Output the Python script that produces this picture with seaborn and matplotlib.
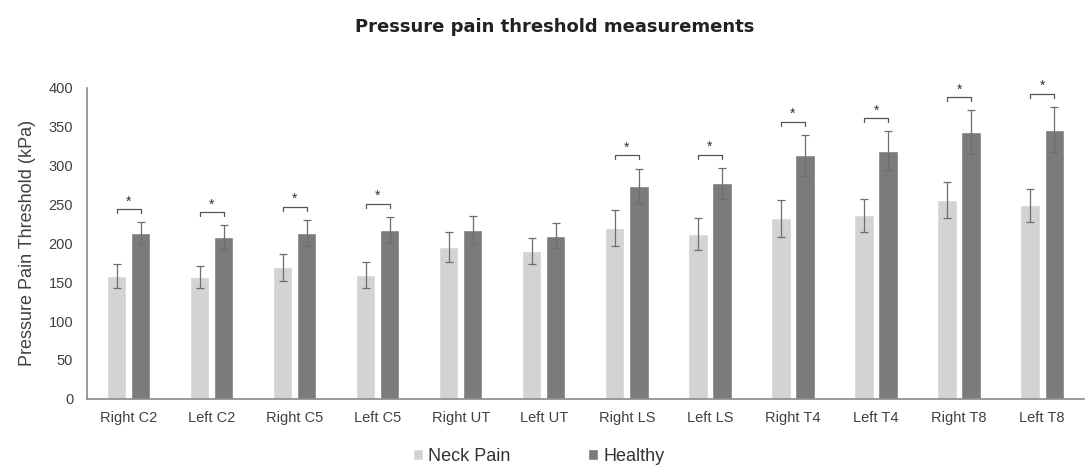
import numpy as np
import pandas as pd
import matplotlib
matplotlib.use("Agg")
import matplotlib.pyplot as plt
import seaborn as sns

# Values
sites = ["Right C2", "Left C2", "Right C5", "Left C5", "Right UT", "Left UT",
         "Right LS", "Left LS", "Right T4", "Left T4", "Right T8", "Left T8"]
neck_pain = [158, 157, 169, 159, 195, 190, 220, 212, 232, 236, 256, 249]
neck_pain_err = [15, 14, 17, 17, 19, 17, 23, 21, 24, 21, 23, 21]
healthy = [213, 208, 213, 217, 217, 210, 274, 277, 313, 319, 343, 346]
healthy_err = [14, 15, 17, 17, 18, 16, 22, 20, 26, 25, 28, 29]
significant = [True, True, True, True, False, False,
               True, True, True, True, True, True]

groups = ["Neck Pain", "Healthy"]
colors = ["#d3d3d3", "#7b7b7b"]

df = pd.DataFrame({
    "Site": sites * 2,
    "Group": [groups[0]] * len(sites) + [groups[1]] * len(sites),
    "PPT": neck_pain + healthy,
    "Err": neck_pain_err + healthy_err,
})

sns.set_theme(style="white")
plt.rcParams["font.family"] = ["Liberation Sans", "DejaVu Sans"]

fig = plt.figure(figsize=(10.88, 4.67), dpi=100)
ax = fig.add_axes([0.08, 0.146, 0.916, 0.666])

sns.barplot(data=df, x="Site", y="PPT", hue="Group", palette=colors,
            errorbar=None, width=0.58, gap=0.2, ax=ax, legend=True)

# error bars on top of each bar
bars = ax.patches[:2 * len(sites)]
for i, g in enumerate(groups):
    sub = df[df["Group"] == g]
    xs = [b.get_x() + b.get_width() / 2 for b in bars[i * len(sites):(i + 1) * len(sites)]]
    ax.errorbar(xs, sub["PPT"], yerr=sub["Err"], fmt="none", ecolor="#6e6e6e",
                elinewidth=0.9, capsize=3, capthick=0.9)

# significance brackets
np_x = [b.get_x() + b.get_width() / 2 for b in bars[:len(sites)]]
h_x = [b.get_x() + b.get_width() / 2 for b in bars[len(sites):]]
for k in range(len(sites)):
    if not significant[k]:
        continue
    y = healthy[k] + healthy_err[k] + 17
    ax.plot([np_x[k], np_x[k], h_x[k], h_x[k]], [y - 5, y, y, y - 5],
            color="#555555", lw=0.9)
    ax.text((np_x[k] + h_x[k]) / 2, y + 1, "*", ha="center", va="bottom",
            fontsize=10, color="#333333")

ax.set_ylim(0, 400)
ax.set_xlim(-0.5, len(sites) - 0.5)
ax.set_yticks(range(0, 401, 50))
ax.set_xlabel("")
ax.set_ylabel("Pressure Pain Threshold (kPa)", fontsize=13, color="#404040",
              labelpad=9)
ax.tick_params(axis="both", labelsize=10.5, colors="#404040", length=0)
ax.tick_params(axis="x", pad=9)
ax.tick_params(axis="y", pad=10)
for s in ["top", "right"]:
    ax.spines[s].set_visible(False)
for s in ["left", "bottom"]:
    ax.spines[s].set_color("#8a8a8a")
    ax.spines[s].set_linewidth(1.2)

handles, labels = ax.get_legend_handles_labels()
ax.get_legend().remove()
fig.legend(handles, labels, loc="center", bbox_to_anchor=(0.495, 0.022), ncol=2,
           frameon=False, fontsize=13, handlelength=0.55, handleheight=0.55,
           handletextpad=0.3, columnspacing=4.3, labelcolor="#333333")

fig.text(0.51, 0.942, "Pressure pain threshold measurements", ha="center",
         va="center", fontsize=13, fontweight="bold", color="#222222",
         family="DejaVu Sans")

fig.savefig("out.png", dpi=100)
